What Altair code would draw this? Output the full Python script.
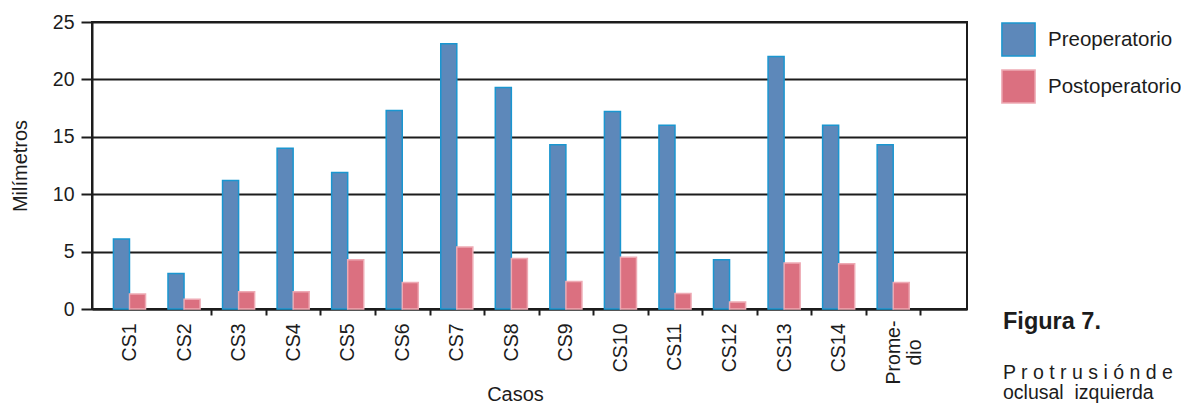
import altair as alt
import pandas as pd

casos = ["CS1", "CS2", "CS3", "CS4", "CS5", "CS6", "CS7", "CS8", "CS9", "CS10",
         "CS11", "CS12", "CS13", "CS14", "Promedio"]
preoperatorio = [6.1, 3.1, 11.2, 14.0, 11.9, 17.3, 23.1, 19.3, 14.3, 17.2,
                 16.0, 4.3, 22.0, 16.0, 14.3]
postoperatorio = [1.3, 0.85, 1.5, 1.5, 4.3, 2.3, 5.4, 4.4, 2.4, 4.5,
                  1.35, 0.6, 4.0, 3.95, 2.3]
series = ["Preoperatorio", "Postoperatorio"]
y_ticks = [0, 5, 10, 15, 20, 25]

rows = []
for c, a, b in zip(casos, preoperatorio, postoperatorio):
    rows.append({"Casos": c, "Serie": series[0], "mm": a})
    rows.append({"Casos": c, "Serie": series[1], "mm": b})
df = pd.DataFrame(rows)

FONT = "Liberation Sans"
INK = "#1c1c1c"

bars = alt.Chart(df).mark_bar(strokeWidth=1.5).encode(
    x=alt.X("Casos:N", sort=casos,
            scale=alt.Scale(paddingInner=0, paddingOuter=0.52, align=0.18),
            axis=alt.Axis(title="Casos", labelAngle=-90, labelFontSize=19.5,
                          labelFont=FONT, labelColor=INK,
                          labelExpr="datum.value == 'Promedio' ? ['Prome-', 'dio'] : datum.label",
                          labelAlign={"condition": {"test": "datum.value == 'Promedio'", "value": "center"}, "value": "right"},
                          labelPadding={"condition": {"test": "datum.value == 'Promedio'", "value": 37}, "value": 8},
                          tickBand="extent", tickSize=6, tickColor=INK, tickWidth=2,
                          tickOpacity={"condition": {"test": "datum.value == 'CS1' || datum.extra", "value": 0}, "value": 1},
                          domainColor=INK, domainWidth=2,
                          titleFontSize=20, titleFont=FONT, titleFontWeight="normal",
                          titleColor=INK, titlePadding=1, titleX=423, titleAlign="center")),
    xOffset=alt.XOffset("Serie:N", sort=series,
                        scale=alt.Scale(paddingInner=0, paddingOuter=0.7)),
    y=alt.Y("mm:Q", scale=alt.Scale(domain=[0, 25], nice=False),
            axis=alt.Axis(title="Milímetros", values=y_ticks, grid=True,
                          gridColor=INK, gridWidth=2, gridOpacity=1,
                          tickSize=11, tickColor=INK, tickWidth=2,
                          domainColor=INK, domainWidth=2,
                          labelFontSize=19.5, labelFont=FONT, labelColor=INK,
                          labelPadding=7,
                          titleFontSize=20, titleFont=FONT, titleFontWeight="normal",
                          titleColor=INK, titlePadding=22)),
    color=alt.Color("Serie:N", sort=series,
                    scale=alt.Scale(domain=series, range=["#5d88ba", "#db7080"]),
                    legend=alt.Legend(title=None, orient="right", offset=34,
                                      symbolType="square", symbolSize=1100,
                                      symbolStrokeWidth=1.5,
                                      labelFontSize=20.5, labelFont=FONT,
                                      labelColor=INK, labelOffset=12,
                                      rowPadding=6, padding=0)),
    stroke=alt.Stroke("Serie:N", sort=series,
                      scale=alt.Scale(domain=series, range=["#1a96d0", "#eeaab4"]),
                      legend=None),
)

caption_df = pd.DataFrame({"t": ["Figura 7."]})
fig = alt.Chart(caption_df).mark_text(
    align="left", baseline="alphabetic", fontSize=23.5, fontWeight="bold",
    font=FONT, color=INK
).encode(text="t:N", x=alt.value(911), y=alt.value(307))

prot_df = pd.DataFrame({"t": ["P r o t r u s i ó n  d e"]})
prot = alt.Chart(prot_df).mark_text(
    align="left", baseline="alphabetic", fontSize=19.5, font=FONT, color=INK
).encode(text="t:N", x=alt.value(911), y=alt.value(357))

ocl_df = pd.DataFrame({"t": ["oclusal\u00a0 izquierda"]})
ocl = alt.Chart(ocl_df).mark_text(
    align="left", baseline="alphabetic", fontSize=19.5, font=FONT, color=INK
).encode(text="t:N", x=alt.value(911), y=alt.value(377))

chart = alt.layer(bars, fig, prot, ocl).properties(
    width=875, height=287,
    autosize=alt.AutoSizeParams(type="none"),
    padding={"left": 84, "top": 14, "right": 214, "bottom": 96},
).configure_view(stroke=INK, strokeWidth=2)

chart.save("out.html", embed_options={"renderer": "svg", "actions": False})
